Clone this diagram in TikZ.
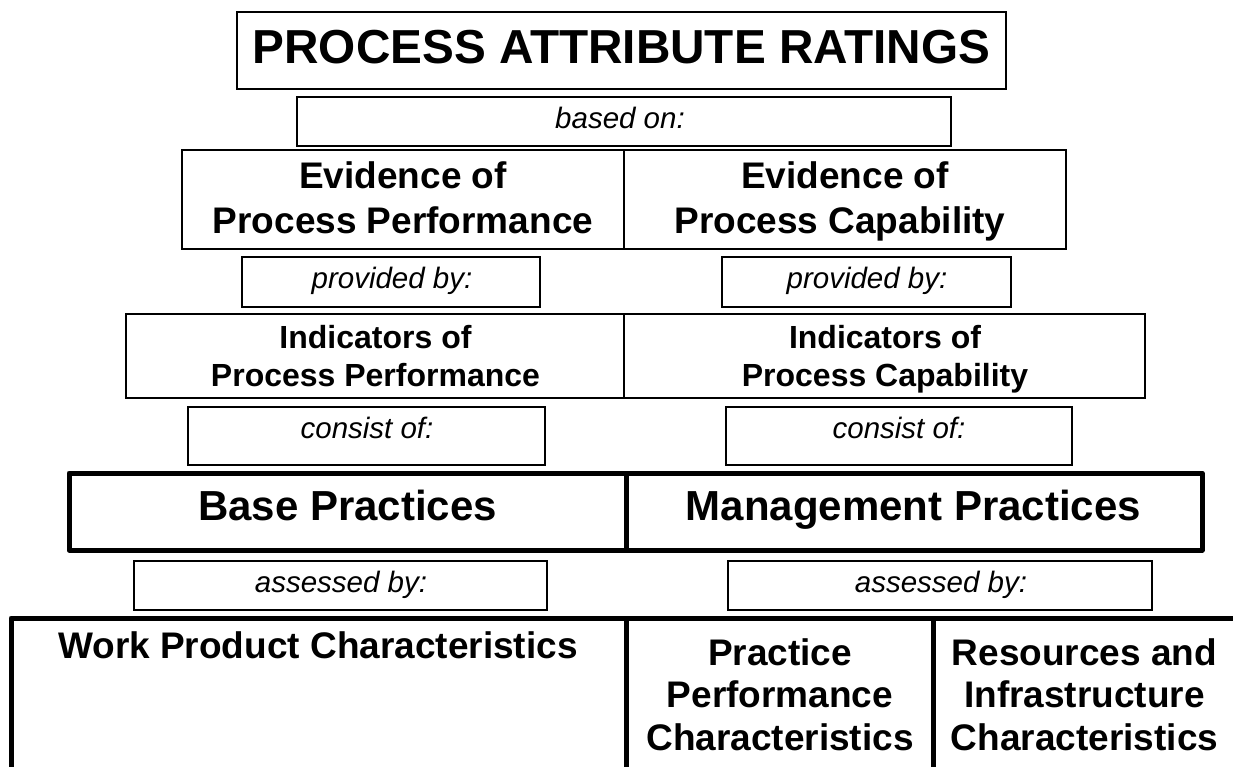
\documentclass[tikz,border=0pt]{standalone}
\usepackage{fontspec}
\setmainfont{Liberation Sans}
\begin{document}
\begin{tikzpicture}[x=1pt,y=-1pt,
  thinbox/.style={draw=black, line width=2pt, rectangle, inner sep=0pt, outer sep=0pt},
  thickbox/.style={draw=black, line width=5pt, rectangle, inner sep=0pt, outer sep=0pt, line join=round},
  txt/.style={anchor=base, inner sep=0pt, font=\bfseries\fontsize{37}{42}\selectfont},
  ttl/.style={anchor=base, inner sep=0pt, font=\bfseries\fontsize{47.7}{55}\selectfont},
  ind/.style={anchor=base, inner sep=0pt, font=\bfseries\fontsize{32}{38}\selectfont},
  big/.style={anchor=base, inner sep=0pt, font=\bfseries\fontsize{42}{48}\selectfont},
  itl/.style={anchor=base, inner sep=0pt, font=\itshape\fontsize{29.5}{34}\selectfont},
  thickline/.style={draw=black, line width=5pt}]
\clip (0,0) rectangle (1233,766);
\fill[white] (0,0) rectangle (1233,766);

% title
\node[thinbox, minimum width=769pt, minimum height=77pt] (title) at (621.5,50.5) {};
\node[ttl] (title-t) at (621.5,63) {PROCESS ATTRIBUTE RATINGS};

% based on
\node[thinbox, minimum width=654pt, minimum height=49pt] (based) at (624,121.5) {};
\node[itl] (based-t) at (620,128) {based on:};

% evidence
\node[thinbox, minimum width=442pt, minimum height=99pt] (evL) at (403,199.5) {};
\node[thinbox, minimum width=442pt, minimum height=99pt] (evR) at (845,199.5) {};
\node[txt] (evL-1) at (403,188) {Evidence of};
\node[txt] (evL-2) at (403,233) {Process Performance};
\node[txt] (evR-1) at (845,188) {Evidence of};
\node[txt] (evR-2) at (840,233) {Process Capability};

% provided by
\node[thinbox, minimum width=298pt, minimum height=50pt] (provL) at (391,282) {};
\node[thinbox, minimum width=289pt, minimum height=50pt] (provR) at (866.5,282) {};
\node[itl] (provL-t) at (392,288) {provided by:};
\node[itl] (provR-t) at (867,288) {provided by:};

% indicators
\node[thinbox, minimum width=498pt, minimum height=84pt] (indL) at (375,356) {};
\node[thinbox, minimum width=521pt, minimum height=84pt] (indR) at (884.5,356) {};
\node[ind] (indL-1) at (375.5,348) {Indicators of};
\node[ind] (indL-2) at (375.5,386) {Process Performance};
\node[ind] (indR-1) at (885,348) {Indicators of};
\node[ind] (indR-2) at (885,386) {Process Capability};

% consist of
\node[thinbox, minimum width=357pt, minimum height=58pt] (conL) at (366.5,436) {};
\node[thinbox, minimum width=346pt, minimum height=58pt] (conR) at (899,436) {};
\node[itl] (conL-t) at (367,438) {consist of:};
\node[itl] (conR-t) at (899,438) {consist of:};

% practices
\node[thickbox, minimum width=557pt, minimum height=77pt] (base) at (347.5,511.5) {};
\node[thickbox, minimum width=576pt, minimum height=77pt] (mgmt) at (914,511.5) {};
\node[big] (base-t) at (347.5,520) {Base Practices};
\node[big] (mgmt-t) at (913.5,520) {Management Practices};

% assessed by
\node[thinbox, minimum width=413pt, minimum height=49pt] (assL) at (340.5,585.5) {};
\node[thinbox, minimum width=424pt, minimum height=49pt] (assR) at (940,585.5) {};
\node[itl] (assL-t) at (341,592) {assessed by:};
\node[itl] (assR-t) at (941,592) {assessed by:};

% bottom characteristics table
\coordinate (bl) at (11,790);
\coordinate (tl) at (11,618);
\coordinate (tr) at (1260,618);
\coordinate (d1t) at (626,618);
\coordinate (d1b) at (626,790);
\coordinate (d2t) at (933,618);
\coordinate (d2b) at (933,790);
\draw[thickline, line join=round] (bl) -- (tl) -- (tr);
\draw[thickline] (d1t) -- (d1b);
\draw[thickline] (d2t) -- (d2b);

\node[txt] (wpc) at (318,658) {Work Product Characteristics};
\node[txt] (ppc-1) at (780,665) {Practice};
\node[txt] (ppc-2) at (780,707) {Performance};
\node[txt] (ppc-3) at (780,750) {Characteristics};
\node[txt] (ric-1) at (1084.5,665) {Resources and};
\node[txt] (ric-2) at (1084.5,707) {Infrastructure};
\node[txt] (ric-3) at (1084.5,750) {Characteristics};
\end{tikzpicture}
\end{document}
